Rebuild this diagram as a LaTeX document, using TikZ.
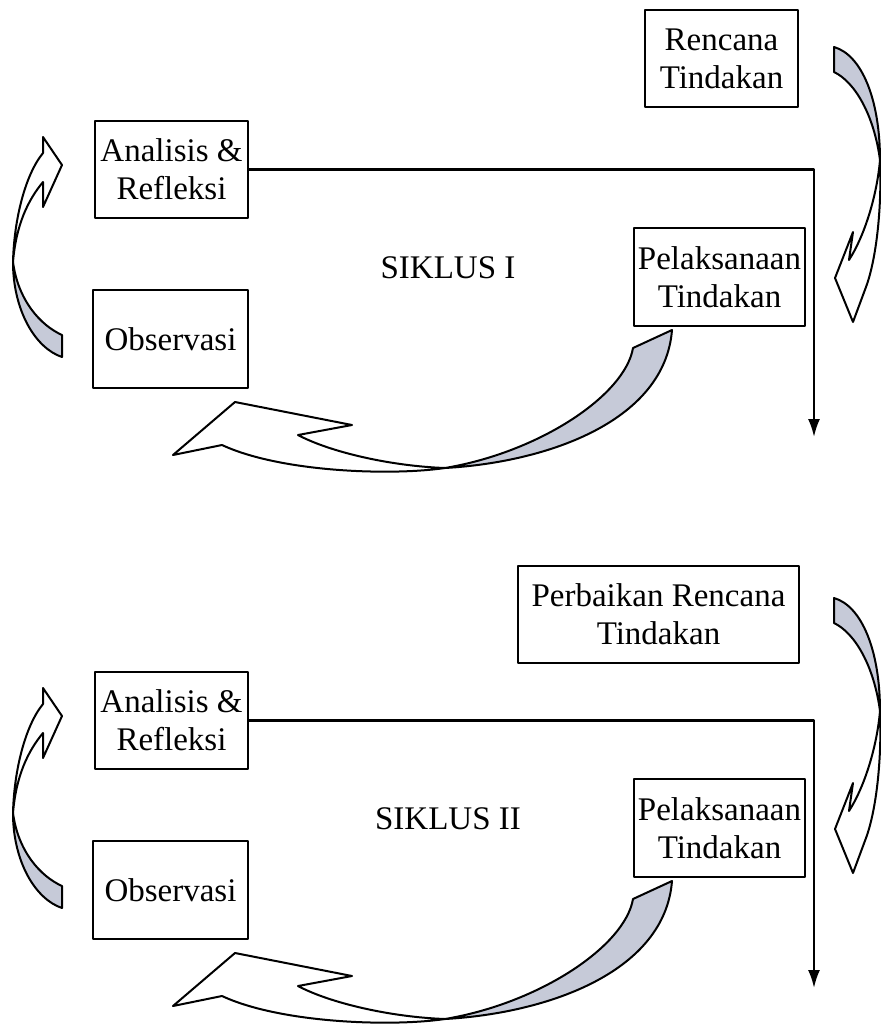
\documentclass[tikz,border=0pt]{standalone}
\usepackage{fontspec}
\setmainfont{Liberation Serif}
\usetikzlibrary{arrows.meta}
\definecolor{ribbongray}{RGB}{198,202,216}
\begin{document}
\begin{tikzpicture}[x=0.5pt, y=-0.5pt, line join=round, line cap=round,
    box/.style={draw, line width=1.2pt, align=center, inner sep=0pt, font=\fontsize{16.5}{19}\selectfont},
    ribbon/.style={draw, line width=1pt, fill=white},
    ribbonback/.style={draw, line width=1pt, fill=ribbongray}]
  \useasboundingbox (0,0) rectangle (881,1024);
  % rencana boxes
  \node[box, minimum width=76.5pt, minimum height=48.5pt] (ren1) at (721.5,58.5) {Rencana\\Tindakan};
  \node[box, minimum width=140.5pt, minimum height=48.5pt] (ren2) at (658.5,614.5) {Perbaikan Rencana\\Tindakan};
  \foreach \i/\dy/\lab in {1/0/I, 2/551/II}{
    \begin{scope}[shift={(0,\dy)}]
      \node[box, minimum width=76.5pt, minimum height=48.5pt] (ana\i) at (171.5,169.5) {Analisis \&\\Refleksi};
      \node[box, minimum width=77.5pt, minimum height=49pt] (obs\i) at (170.5,339) {Observasi};
      \node[box, minimum width=85.5pt, minimum height=49pt] (pel\i) at (719.5,277) {Pelaksanaan\\Tindakan};
      \node[font=\fontsize{16.5}{19}\selectfont] (sik\i) at (448,268) {SIKLUS \lab};
      \coordinate (end\i) at (814,437);
      \draw[line width=1.1pt, -{Latex[length=9pt,width=6pt]}] (ana\i.east) -| (end\i);
      % observasi -> analisis
      \draw[ribbon] (62,165) -- (43,137) -- (43,153) .. controls (25,175) and (14,220) .. (13,262)
        .. controls (16,225) and (28,200) .. (43,182) -- (43,207) -- cycle;
      \draw[ribbonback] (13,262) .. controls (13,310) and (35,348) .. (62,357) -- (62,335)
        .. controls (40,325) and (18,300) .. (13,262) -- cycle;
      % rencana -> pelaksanaan
      \draw[ribbon] (835,278) -- (853,232) -- (849,260) .. controls (865,235) and (877,195) .. (880,160)
        .. controls (882,210) and (876,260) .. (866,287) -- (853,322) -- cycle;
      \draw[ribbonback] (880,160) .. controls (880,100) and (862,55) .. (834,47) -- (834,72)
        .. controls (855,82) and (874,115) .. (880,160) -- cycle;
      % pelaksanaan -> observasi
      \draw[ribbon] (173,455) -- (235,402) -- (352,425) -- (298,435) .. controls (330,452) and (390,466) .. (445,468)
        .. controls (390,476) and (280,472) .. (222,445) -- cycle;
      \draw[ribbonback] (445,468) .. controls (550,462) and (665,420) .. (672,330) -- (633,348)
        .. controls (625,395) and (540,452) .. (445,468) -- cycle;
    \end{scope}
  }
\end{tikzpicture}
\end{document}
